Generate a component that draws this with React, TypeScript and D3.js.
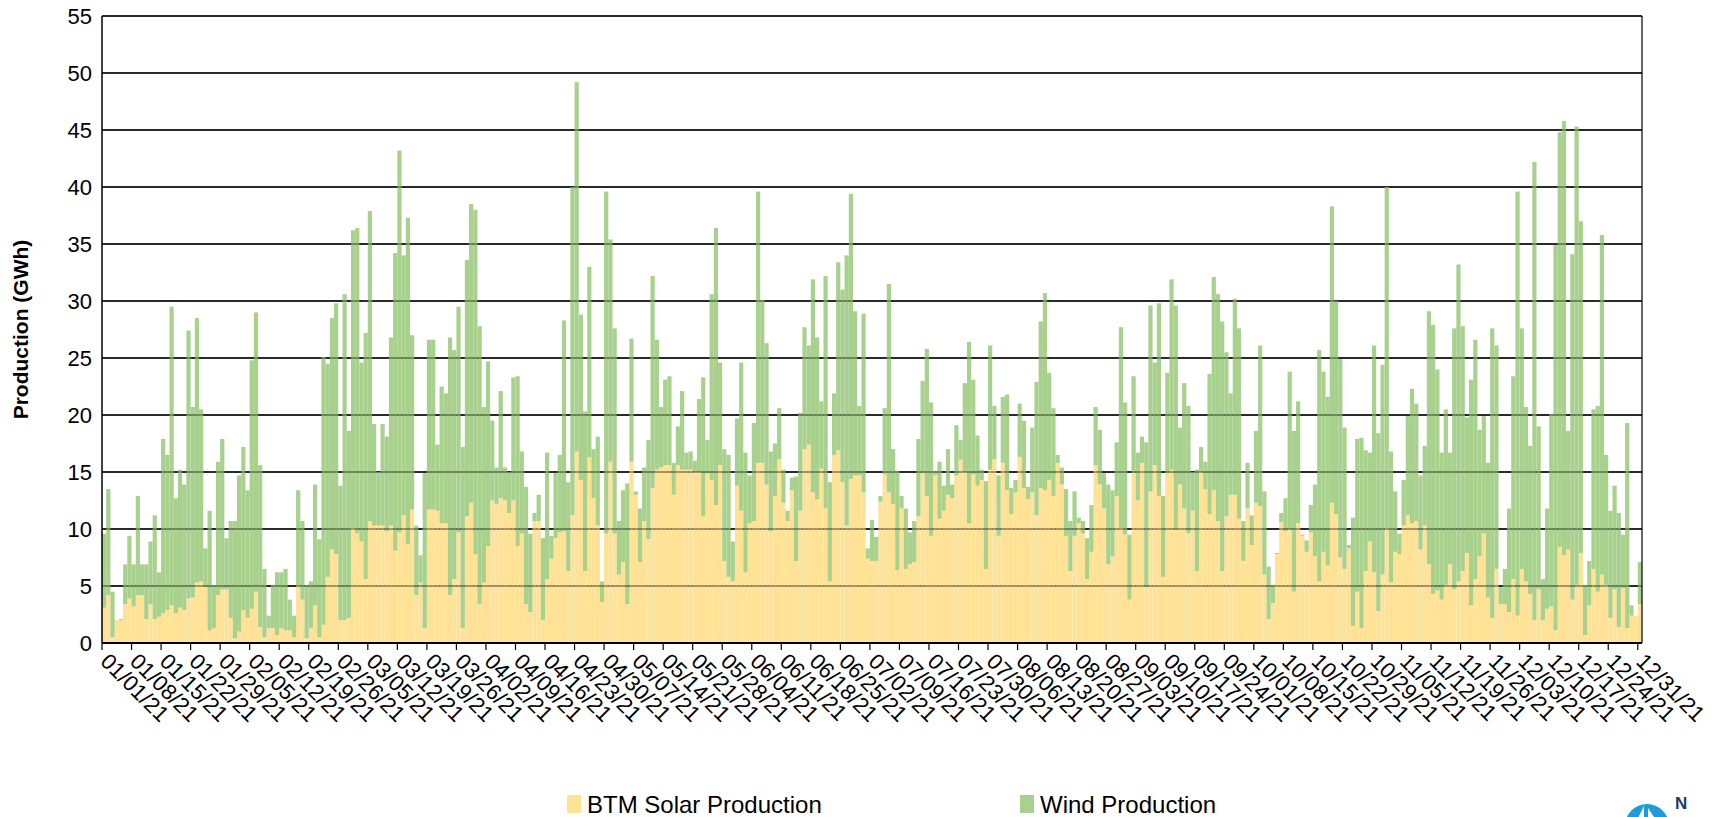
import React from "react";
import * as d3 from "d3";

// one bar per day of 2021
const days = d3.timeDay.range(new Date(2021, 0, 1), new Date(2022, 0, 1));

// BTM solar production, GWh per day
const solarGWh = [
  // 01/01 - 02/02
  3.1, 4.2, 0.5, 2.0, 2.0, 3.4, 3.9, 3.2, 4.2, 4.2, 2.1, 3.4, 2.1, 2.3, 2.6, 2.9, 3.3, 2.6, 3.1, 2.9,
  3.9, 4.0, 5.3, 5.4, 4.9, 1.1, 1.3, 4.2, 4.7, 4.7, 2.2, 0.4, 1.0,
  // 02/03 - 03/07
  2.9, 2.2, 3.0, 4.5, 1.4, 0.5, 1.3, 1.3, 0.7, 1.3, 1.1, 1.1, 0.5, 5.0, 3.8, 0.4, 1.3, 3.3, 0.5, 1.6,
  5.8, 8.2, 7.8, 2.0, 2.0, 2.2, 10.1, 9.6, 8.9, 5.6, 10.7, 10.3, 10.3,
  // 03/08 - 04/09
  10.3, 9.8, 10.3, 8.1, 9.7, 11.2, 8.7, 11.7, 4.2, 5.3, 1.3, 11.7, 11.7, 11.6, 10.5, 10.5, 4.2, 5.6, 9.7, 1.3,
  11.1, 12.3, 7.8, 3.4, 5.3, 8.5, 12.5, 12.2, 12.7, 12.5, 11.4, 12.5, 8.5,
  // 04/10 - 05/11
  9.6, 3.4, 2.7, 10.7, 10.7, 2.0, 5.6, 7.4, 9.2, 9.7, 9.8, 6.3, 11.2, 16.8, 14.3, 6.3, 16.3, 12.7, 10.3, 3.6,
  9.6, 15.9, 9.6, 6.0, 7.1, 3.4, 15.9, 13.0, 7.1, 10.7, 9.1, 13.6,
  // 05/12 - 06/15
  15.2, 15.4, 15.6, 15.6, 13.0, 15.6, 15.2, 15.2, 15.2, 15.0, 15.0, 11.1, 14.9, 14.3, 12.1, 15.6, 7.2, 5.8, 5.4, 13.8,
  11.6, 6.2, 10.5, 10.7, 15.8, 15.8, 13.9, 9.8, 12.9, 16.1, 12.3, 10.7, 13.4, 7.2, 11.6,
  // 06/16 - 07/18
  17.0, 17.4, 13.2, 12.6, 15.3, 11.8, 5.4, 16.5, 16.9, 14.1, 10.3, 14.4, 14.7, 14.7, 13.2, 7.4, 7.2, 7.2, 12.4, 14.8,
  13.2, 12.2, 6.4, 11.8, 6.5, 6.9, 7.1, 11.1, 14.9, 12.9, 9.4, 14.7, 10.9,
  // 07/19 - 08/20
  11.6, 13.0, 12.7, 14.7, 16.1, 15.0, 10.5, 14.8, 13.8, 14.3, 6.5, 15.2, 16.1, 9.4, 15.8, 13.4, 11.3, 13.2, 16.3, 13.6,
  12.6, 13.2, 11.2, 13.6, 13.4, 14.3, 12.9, 15.8, 13.9, 9.4, 6.3, 9.4, 10.5,
  // 08/21 - 09/22
  9.6, 5.6, 8.0, 15.6, 13.9, 11.8, 6.9, 7.6, 12.9, 10.1, 9.5, 3.8, 14.9, 12.5, 15.8, 4.9, 13.3, 15.6, 12.9, 5.8,
  14.9, 15.2, 10.0, 13.9, 11.8, 9.6, 11.6, 6.3, 15.0, 13.5, 11.3, 13.4, 10.7,
  // 09/23 - 10/25
  6.3, 11.1, 13.0, 13.0, 10.9, 7.2, 11.8, 8.6, 12.3, 12.0, 6.0, 2.1, 3.5, 7.8, 10.6, 9.8, 10.0, 4.5, 10.5, 9.4,
  8.0, 9.7, 7.6, 5.4, 8.0, 6.8, 12.3, 11.3, 7.5, 6.5, 8.3, 1.5, 4.5,
  // 10/26 - 11/27
  1.3, 6.3, 8.9, 6.2, 2.8, 6.0, 10.1, 5.3, 8.0, 7.8, 10.3, 11.2, 10.5, 10.7, 8.2, 10.3, 6.9, 4.3, 4.6, 3.8,
  5.1, 6.9, 4.7, 5.4, 6.3, 7.9, 3.3, 5.6, 7.6, 9.6, 4.0, 2.2, 6.5,
  // 11/28 - 12/31
  3.4, 3.4, 2.7, 5.6, 2.4, 6.5, 5.4, 4.3, 2.0, 4.7, 2.0, 3.0, 3.2, 1.1, 8.4, 7.7, 8.2, 3.8, 5.1, 7.9,
  0.7, 3.3, 6.5, 4.5, 6.0, 5.1, 2.2, 4.7, 1.4, 4.8, 1.3, 2.4, 2.4, 3.4,
];

// wind production, GWh per day (stacked on top of solar)
const windGWh = [
  // 01/01 - 02/02
  6.5, 9.3, 4.0, 0.0, 0.1, 3.5, 5.5, 3.7, 8.7, 2.7, 4.8, 5.5, 9.1, 3.9, 15.3, 13.6, 26.2, 10.1, 12.1, 11.0,
  23.5, 16.7, 23.2, 15.1, 3.4, 10.5, 3.8, 11.7, 13.2, 4.5, 8.5, 10.3, 13.7,
  // 02/03 - 03/07
  14.3, 11.2, 21.8, 24.5, 14.2, 6.0, 1.1, 3.8, 5.5, 4.9, 5.4, 2.7, 1.9, 8.4, 6.9, 4.7, 4.1, 10.6, 8.6, 23.5,
  18.7, 20.3, 22.0, 11.8, 28.6, 16.4, 26.1, 26.8, 15.7, 21.6, 27.2, 8.9, 4.7,
  // 03/08 - 04/09
  8.9, 8.3, 16.5, 26.1, 33.5, 22.8, 28.6, 15.3, 6.1, 2.4, 13.6, 14.9, 14.9, 5.8, 12.0, 11.4, 22.6, 20.1, 19.8, 15.9,
  22.5, 26.2, 30.2, 24.4, 15.4, 16.2, 7.0, 3.2, 9.4, 2.9, 3.6, 10.8, 14.9,
  // 04/10 - 05/11
  7.2, 10.3, 6.9, 0.7, 2.3, 7.2, 11.1, 2.0, 5.7, 6.8, 18.5, 7.8, 28.8, 32.4, 14.5, 14.0, 16.7, 4.3, 7.8, 1.8,
  30.0, 19.5, 18.0, 4.7, 6.3, 10.6, 10.8, 0.3, 4.7, 4.7, 8.7, 18.6,
  // 05/12 - 06/15
  11.4, 5.3, 7.5, 7.8, 2.8, 3.4, 6.9, 1.5, 1.6, 1.0, 6.4, 12.2, 2.9, 16.3, 24.3, 9.0, 9.8, 10.7, 3.5, 5.9,
  13.0, 10.5, 4.2, 8.6, 23.8, 14.3, 12.4, 7.0, 4.6, 4.5, 2.9, 0.9, 1.1, 7.4, 8.6,
  // 06/16 - 07/18
  10.7, 8.7, 18.7, 14.2, 5.9, 20.4, 8.7, 5.4, 16.5, 16.9, 23.7, 25.0, 14.4, 6.1, 15.7, 0.9, 3.6, 2.1, 0.5, 5.8,
  18.3, 4.8, 8.7, 1.1, 5.3, 2.8, 3.6, 6.8, 8.1, 12.9, 11.7, 0.4, 5.0,
  // 07/19 - 08/20
  2.2, 4.0, 1.2, 4.4, 1.7, 7.8, 15.9, 8.3, 4.4, 0.9, 7.7, 10.9, 4.7, 5.3, 5.8, 8.4, 2.3, 1.1, 4.7, 5.9,
  1.1, 5.7, 11.7, 14.6, 17.3, 9.4, 7.7, 0.7, 1.5, 4.1, 4.4, 3.9, 0.5,
  // 08/21 - 09/22
  1.1, 3.6, 4.1, 5.1, 4.8, 3.1, 7.0, 5.8, 4.7, 17.6, 11.6, 5.7, 8.5, 4.2, 2.3, 12.7, 16.3, 9.0, 16.9, 7.1,
  8.8, 16.7, 19.6, 5.0, 11.0, 11.2, 3.4, 8.9, 2.2, 2.4, 12.3, 18.7, 19.9,
  // 09/23 - 10/25
  21.9, 14.4, 8.9, 17.2, 16.7, 3.5, 4.0, 2.6, 6.3, 14.1, 7.3, 4.6, 1.6, 0.1, 0.8, 2.9, 13.8, 14.1, 10.7, 0.1,
  1.0, 2.4, 6.3, 20.3, 15.8, 14.8, 26.0, 18.7, 17.4, 12.4, 0.3, 9.5, 13.4,
  // 10/26 - 11/27
  16.7, 10.6, 7.8, 19.9, 15.6, 18.4, 29.9, 11.5, 5.3, 1.8, 4.0, 8.7, 11.8, 10.3, 6.5, 7.0, 22.2, 23.6, 19.4, 12.9,
  15.4, 9.8, 22.9, 27.8, 21.5, 11.9, 19.8, 21.0, 11.1, 10.3, 11.8, 25.4, 19.6,
  // 11/28 - 12/31
  1.5, 3.1, 9.1, 17.8, 37.2, 21.1, 15.3, 13.0, 40.2, 14.3, 3.6, 8.8, 16.9, 33.8, 36.4, 38.1, 10.4, 30.3, 40.2, 29.1,
  4.4, 3.9, 14.0, 16.3, 29.8, 11.4, 9.4, 9.1, 10.0, 4.7, 18.0, 0.9, 0.0, 3.7,
];

const seriesKeys = ["solar", "wind"];
const seriesLabels = ["BTM Solar Production", "Wind Production"];
const yTickValues = [0, 5, 10, 15, 20, 25, 30, 35, 40, 45, 50, 55];

const FONT = "'Liberation Sans', Arial, sans-serif";

export default function App() {
  const width = 1723;
  const height = 817;
  const plot = { left: 102, right: 1642, top: 16, bottom: 643 };

  const rows = days.map((d, i) => ({ i, solar: solarGWh[i], wind: windGWh[i] }));

  const x = d3
    .scaleBand<number>()
    .domain(rows.map((r) => r.i))
    .range([plot.left, plot.right])
    .padding(0);

  const y = d3.scaleLinear().domain([0, 55]).range([plot.bottom, plot.top]);

  const stacked = d3.stack<any>().keys(seriesKeys)(rows);

  const color = d3.scaleOrdinal<string>().domain(seriesKeys).range(["#FFE296", "#A9D18E"]);

  const fmt = d3.timeFormat("%m/%d/%y");
  const tickIdx = d3.range(0, days.length, 7);
  const gridVals = yTickValues.slice(1);

  return (
    <svg
      width={width}
      height={height}
      style={{ position: "absolute", left: 0, top: 0, background: "#fff" }}
      fontFamily={FONT}
    >
      {/* grid under the bars */}
      {gridVals.map((t) => (
        <line key={`g-${t}`} x1={plot.left} x2={plot.right} y1={y(t)} y2={y(t)} stroke="#000" strokeWidth={1.4} />
      ))}

      {/* stacked bars */}
      {stacked.map((layer) => (
        <g key={layer.key} fill={color(layer.key)}>
          {layer.map((d, i) => (
            <rect
              key={i}
              x={x(i)}
              y={y(d[1])}
              width={x.bandwidth()}
              height={Math.max(0, y(d[0]) - y(d[1]))}
            />
          ))}
        </g>
      ))}

      {/* grid shows through the bars, darker */}
      {gridVals.map((t) => (
        <line
          key={`go-${t}`}
          x1={plot.left}
          x2={plot.right}
          y1={y(t)}
          y2={y(t)}
          stroke="#000"
          strokeOpacity={0.45}
          strokeWidth={1.4}
        />
      ))}

      {/* frame */}
      <line x1={plot.left} x2={plot.left} y1={plot.top} y2={plot.bottom} stroke="#000" strokeWidth={1.5} />
      <line x1={plot.right} x2={plot.right} y1={plot.top} y2={plot.bottom} stroke="#000" strokeWidth={1.2} />
      <line x1={plot.left} x2={plot.right} y1={plot.bottom} y2={plot.bottom} stroke="#000" strokeWidth={2.2} />

      {/* y labels */}
      {yTickValues.map((t) => (
        <text key={`yl-${t}`} x={92} y={y(t)} dy="0.36em" textAnchor="end" fontSize={22} fill="#000">
          {t}
        </text>
      ))}

      <text
        transform={`translate(20, ${(plot.top + plot.bottom) / 2}) rotate(-90)`}
        textAnchor="middle"
        dy="0.36em"
        fontSize={21}
        fontWeight="bold"
        fill="#000"
      >
        Production (GWh)
      </text>

      {/* x ticks + labels */}
      {tickIdx.map((i) => {
        const px = x(i) as number;
        return (
          <g key={`xt-${i}`}>
            <line x1={px} x2={px} y1={plot.bottom} y2={plot.bottom + 7} stroke="#000" strokeWidth={1.2} />
            <text
              transform={`translate(${px + 9}, ${plot.bottom + 8}) rotate(45)`}
              dy="0.75em"
              fontSize={22}
              fill="#000"
            >
              {fmt(days[i])}
            </text>
          </g>
        );
      })}

      {/* legend */}
      {seriesKeys.map((k, i) => {
        const lx = i === 0 ? 567 : 1020;
        return (
          <g key={`lg-${k}`} transform={`translate(${lx}, 804)`}>
            <rect x={0} y={-9} width={14} height={18} fill={color(k)} />
            <text x={20} y={0} dy="0.36em" fontSize={24} fill="#000">
              {seriesLabels[i]}
            </text>
          </g>
        );
      })}

      {/* logo, cut off by the bottom edge */}
      <g>
        <circle cx={1647} cy={826} r={22} fill="#1f9bd7" />
        <path d="M1634,826 L1644,806 L1644,826 Z" fill="#fff" />
        <path d="M1648,808 L1660,826 L1648,826 Z" fill="#fff" />
        <text x={1675} y={809} fontSize={17} fontWeight="bold" fill="#1c3a68">
          N
        </text>
      </g>
    </svg>
  );
}
